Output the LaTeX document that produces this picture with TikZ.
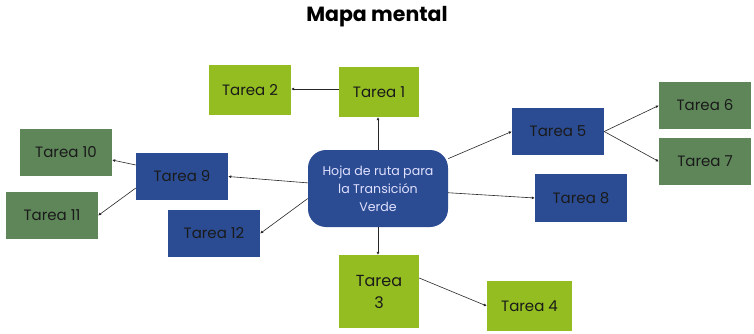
\documentclass[tikz,border=0pt]{standalone}
\usepackage{fontspec}
\setmainfont{Poppins}
\usetikzlibrary{arrows.meta}
\definecolor{lgreen}{HTML}{93BD21}
\definecolor{dgreen}{HTML}{5E8659}
\definecolor{dblue}{HTML}{2B4C93}
\definecolor{txt}{HTML}{1A1A1A}
\begin{document}
\begin{tikzpicture}[x=1pt,y=-1pt,
  box/.style={rectangle,inner sep=0pt,text=txt,font=\fontsize{15}{18}\selectfont},
  lg/.style={box,fill=lgreen},
  dg/.style={box,fill=dgreen},
  bl/.style={box,fill=dblue},
  conn/.style={draw=black!85,line width=0.6pt,-{Latex[length=3pt,width=3pt]}}]
\useasboundingbox (0,0) rectangle (754,334);
\node[font=\fontsize{20.5}{24}\selectfont\bfseries] (title) at (377,17) {Mapa mental};
\node[lg,minimum width=82pt,minimum height=50pt] (t2) at (250,90) {Tarea 2};
\node[lg,minimum width=80pt,minimum height=50pt] (t1) at (379,92) {Tarea 1};
\node[rectangle,rounded corners=18pt,fill=dblue,minimum width=140pt,minimum height=77pt,text=white!88!blue,align=center,font=\fontsize{12.6}{18}\selectfont,inner sep=0pt] (c) at (378,188.5) {Hoja de ruta para\\la Transición\\Verde};
\node[bl,minimum width=92pt,minimum height=47pt] (t5) at (558,131.5) {Tarea 5};
\node[dg,minimum width=92pt,minimum height=47pt] (t6) at (705,105.5) {Tarea 6};
\node[dg,minimum width=92pt,minimum height=47pt] (t7) at (705,161.5) {Tarea 7};
\node[bl,minimum width=92pt,minimum height=48pt] (t8) at (581,198) {Tarea 8};
\node[bl,minimum width=92pt,minimum height=47pt] (t9) at (182,176.5) {Tarea 9};
\node[dg,minimum width=92pt,minimum height=47pt] (t10) at (66,152.5) {Tarea 10};
\node[dg,minimum width=92pt,minimum height=47pt] (t11) at (52,215.5) {Tarea 11};
\node[bl,minimum width=92pt,minimum height=47pt] (t12) at (214,233.5) {Tarea 12};
\node[lg,minimum width=80pt,minimum height=73pt,align=center,font=\fontsize{16}{22}\selectfont] (t3) at (379,291.5) {Tarea\\3};
\node[lg,minimum width=85pt,minimum height=50pt] (t4) at (529.5,306) {Tarea 4};
% connectors
\draw[conn] ([yshift=3pt]t1.west) -- ([yshift=3pt]t1.west -| t2.east);
\draw[conn] (c.north) -- (c.north |- t1.south);
\draw[conn] (c.south) -- (c.south |- t3.north);
\draw[conn] ([yshift=13.5pt]t3.east) -- (t4.west);
\draw[conn] (c) -- (t5.west);
\draw[conn] (t5.east) -- (t6.west);
\draw[conn] (t5.east) -- (t7.west);
\draw[conn] (c) -- (t8.west);
\draw[conn] (c) -- (t9.east);
\draw[conn] ([yshift=-10pt]c.west) -- (t12.east);
\draw[conn] ([yshift=11.5pt]t9.west) -- ([yshift=-7.5pt]t10.east);
\draw[conn] ([yshift=-11.5pt]t9.west) -- (t11.east);
\end{tikzpicture}
\end{document}
